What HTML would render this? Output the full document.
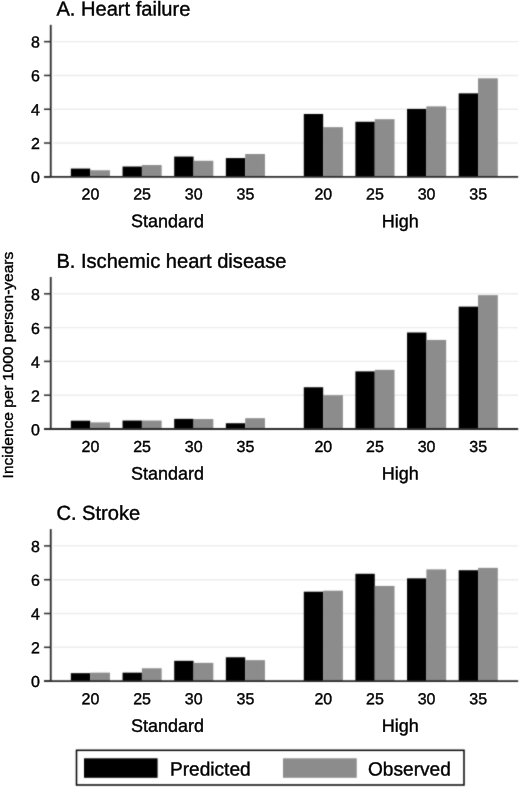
<!DOCTYPE html>
<html><head><meta charset="utf-8"><style>
html,body{margin:0;padding:0;background:#fff;width:520px;height:788px;overflow:hidden}
svg{display:block;will-change:transform}
text{font-family:"Liberation Sans",sans-serif;fill:#000;stroke:#000;stroke-width:0.4px}
</style></head><body>
<svg width="520" height="788" viewBox="0 0 520 788">
<defs><filter id="b" filterUnits="userSpaceOnUse" x="0" y="0" width="520" height="788" color-interpolation-filters="sRGB"><feConvolveMatrix order="3" kernelMatrix="1 2 1 2 16 2 1 2 1" divisor="28" edgeMode="duplicate"/></filter></defs>
<rect width="520" height="788" fill="#fff"/>
<g filter="url(#b)">
<line x1="53.3" x2="518" y1="143.05" y2="143.05" stroke="#ebebeb" stroke-width="1.4"/>
<line x1="53.3" x2="518" y1="109.25" y2="109.25" stroke="#ebebeb" stroke-width="1.4"/>
<line x1="53.3" x2="518" y1="75.45" y2="75.45" stroke="#ebebeb" stroke-width="1.4"/>
<line x1="53.3" x2="518" y1="41.65" y2="41.65" stroke="#ebebeb" stroke-width="1.4"/>
<rect x="70.85" y="168.57" width="19.35" height="8.28" fill="#000"/>
<rect x="90.2" y="170.26" width="19.75" height="6.59" fill="#8c8c8c"/>
<rect x="122.55" y="166.54" width="19.35" height="10.31" fill="#000"/>
<rect x="141.9" y="165.02" width="19.75" height="11.83" fill="#8c8c8c"/>
<rect x="174.2" y="156.57" width="19.35" height="20.28" fill="#000"/>
<rect x="193.55" y="160.79" width="19.75" height="16.05" fill="#8c8c8c"/>
<rect x="225.85" y="158.09" width="19.35" height="18.76" fill="#000"/>
<rect x="245.2" y="154.03" width="19.75" height="22.82" fill="#8c8c8c"/>
<rect x="303.8" y="113.98" width="19.35" height="62.87" fill="#000"/>
<rect x="323.15" y="127.16" width="19.75" height="49.69" fill="#8c8c8c"/>
<rect x="355.4" y="121.76" width="19.35" height="55.09" fill="#000"/>
<rect x="374.75" y="119.22" width="19.75" height="57.63" fill="#8c8c8c"/>
<rect x="407.05" y="108.91" width="19.35" height="67.94" fill="#000"/>
<rect x="426.4" y="106.38" width="19.75" height="70.47" fill="#8c8c8c"/>
<rect x="458.7" y="93.36" width="19.35" height="83.49" fill="#000"/>
<rect x="478.05" y="78.32" width="19.75" height="98.53" fill="#8c8c8c"/>
<line x1="50.75" x2="50.75" y1="24.85" y2="176.85" stroke="#2a2a2a" stroke-width="1.8"/>
<line x1="44" x2="518.2" y1="176.85" y2="176.85" stroke="#2a2a2a" stroke-width="1.8"/>
<line x1="44" x2="50.75" y1="176.85" y2="176.85" stroke="#2a2a2a" stroke-width="1.5"/>
<line x1="44" x2="50.75" y1="143.05" y2="143.05" stroke="#2a2a2a" stroke-width="1.5"/>
<line x1="44" x2="50.75" y1="109.25" y2="109.25" stroke="#2a2a2a" stroke-width="1.5"/>
<line x1="44" x2="50.75" y1="75.45" y2="75.45" stroke="#2a2a2a" stroke-width="1.5"/>
<line x1="44" x2="50.75" y1="41.65" y2="41.65" stroke="#2a2a2a" stroke-width="1.5"/>
<line x1="53.3" x2="518" y1="395.2" y2="395.2" stroke="#ebebeb" stroke-width="1.4"/>
<line x1="53.3" x2="518" y1="361.4" y2="361.4" stroke="#ebebeb" stroke-width="1.4"/>
<line x1="53.3" x2="518" y1="327.6" y2="327.6" stroke="#ebebeb" stroke-width="1.4"/>
<line x1="53.3" x2="518" y1="293.8" y2="293.8" stroke="#ebebeb" stroke-width="1.4"/>
<rect x="70.85" y="420.72" width="19.35" height="8.28" fill="#000"/>
<rect x="90.2" y="422.41" width="19.75" height="6.59" fill="#8c8c8c"/>
<rect x="122.55" y="420.55" width="19.35" height="8.45" fill="#000"/>
<rect x="141.9" y="420.55" width="19.75" height="8.45" fill="#8c8c8c"/>
<rect x="174.2" y="418.86" width="19.35" height="10.14" fill="#000"/>
<rect x="193.55" y="419.03" width="19.75" height="9.97" fill="#8c8c8c"/>
<rect x="225.85" y="423.25" width="19.35" height="5.75" fill="#000"/>
<rect x="245.2" y="418.18" width="19.75" height="10.82" fill="#8c8c8c"/>
<rect x="303.8" y="387.26" width="19.35" height="41.74" fill="#000"/>
<rect x="323.15" y="395.2" width="19.75" height="33.8" fill="#8c8c8c"/>
<rect x="355.4" y="371.37" width="19.35" height="57.63" fill="#000"/>
<rect x="374.75" y="369.85" width="19.75" height="59.15" fill="#8c8c8c"/>
<rect x="407.05" y="332.5" width="19.35" height="96.5" fill="#000"/>
<rect x="426.4" y="339.94" width="19.75" height="89.06" fill="#8c8c8c"/>
<rect x="458.7" y="306.64" width="19.35" height="122.36" fill="#000"/>
<rect x="478.05" y="295.15" width="19.75" height="133.85" fill="#8c8c8c"/>
<line x1="50.75" x2="50.75" y1="277" y2="429" stroke="#2a2a2a" stroke-width="1.8"/>
<line x1="44" x2="518.2" y1="429" y2="429" stroke="#2a2a2a" stroke-width="1.8"/>
<line x1="44" x2="50.75" y1="429" y2="429" stroke="#2a2a2a" stroke-width="1.5"/>
<line x1="44" x2="50.75" y1="395.2" y2="395.2" stroke="#2a2a2a" stroke-width="1.5"/>
<line x1="44" x2="50.75" y1="361.4" y2="361.4" stroke="#2a2a2a" stroke-width="1.5"/>
<line x1="44" x2="50.75" y1="327.6" y2="327.6" stroke="#2a2a2a" stroke-width="1.5"/>
<line x1="44" x2="50.75" y1="293.8" y2="293.8" stroke="#2a2a2a" stroke-width="1.5"/>
<line x1="53.3" x2="518" y1="647.3" y2="647.3" stroke="#ebebeb" stroke-width="1.4"/>
<line x1="53.3" x2="518" y1="613.5" y2="613.5" stroke="#ebebeb" stroke-width="1.4"/>
<line x1="53.3" x2="518" y1="579.7" y2="579.7" stroke="#ebebeb" stroke-width="1.4"/>
<line x1="53.3" x2="518" y1="545.9" y2="545.9" stroke="#ebebeb" stroke-width="1.4"/>
<rect x="70.85" y="673.16" width="19.35" height="7.94" fill="#000"/>
<rect x="90.2" y="672.65" width="19.75" height="8.45" fill="#8c8c8c"/>
<rect x="122.55" y="672.65" width="19.35" height="8.45" fill="#000"/>
<rect x="141.9" y="668.26" width="19.75" height="12.84" fill="#8c8c8c"/>
<rect x="174.2" y="660.82" width="19.35" height="20.28" fill="#000"/>
<rect x="193.55" y="662.85" width="19.75" height="18.25" fill="#8c8c8c"/>
<rect x="225.85" y="657.27" width="19.35" height="23.83" fill="#000"/>
<rect x="245.2" y="660.14" width="19.75" height="20.96" fill="#8c8c8c"/>
<rect x="303.8" y="591.7" width="19.35" height="89.4" fill="#000"/>
<rect x="323.15" y="590.69" width="19.75" height="90.41" fill="#8c8c8c"/>
<rect x="355.4" y="573.79" width="19.35" height="107.31" fill="#000"/>
<rect x="374.75" y="585.95" width="19.75" height="95.15" fill="#8c8c8c"/>
<rect x="407.05" y="578.35" width="19.35" height="102.75" fill="#000"/>
<rect x="426.4" y="569.39" width="19.75" height="111.71" fill="#8c8c8c"/>
<rect x="458.7" y="570.24" width="19.35" height="110.86" fill="#000"/>
<rect x="478.05" y="567.87" width="19.75" height="113.23" fill="#8c8c8c"/>
<line x1="50.75" x2="50.75" y1="529.1" y2="681.1" stroke="#2a2a2a" stroke-width="1.8"/>
<line x1="44" x2="518.2" y1="681.1" y2="681.1" stroke="#2a2a2a" stroke-width="1.8"/>
<line x1="44" x2="50.75" y1="681.1" y2="681.1" stroke="#2a2a2a" stroke-width="1.5"/>
<line x1="44" x2="50.75" y1="647.3" y2="647.3" stroke="#2a2a2a" stroke-width="1.5"/>
<line x1="44" x2="50.75" y1="613.5" y2="613.5" stroke="#2a2a2a" stroke-width="1.5"/>
<line x1="44" x2="50.75" y1="579.7" y2="579.7" stroke="#2a2a2a" stroke-width="1.5"/>
<line x1="44" x2="50.75" y1="545.9" y2="545.9" stroke="#2a2a2a" stroke-width="1.5"/>
<rect x="76.5" y="750.3" width="387.5" height="34.7" fill="none" stroke="#000" stroke-width="1.5"/>
<rect x="84" y="758.3" width="73.6" height="19.5" fill="#000"/>
<rect x="283" y="758.3" width="73.75" height="19.5" fill="#8c8c8c"/>
</g>
<g transform="matrix(1,0.001,0,1,0,0)">
<text x="40" y="182.71" text-anchor="end" font-size="16">0</text>
<text x="40" y="148.91" text-anchor="end" font-size="16">2</text>
<text x="40" y="115.11" text-anchor="end" font-size="16">4</text>
<text x="40" y="81.31" text-anchor="end" font-size="16">6</text>
<text x="40" y="47.51" text-anchor="end" font-size="16">8</text>
<text x="90.4" y="199.46" text-anchor="middle" font-size="16">20</text>
<text x="142.1" y="199.41" text-anchor="middle" font-size="16">25</text>
<text x="193.75" y="199.36" text-anchor="middle" font-size="16">30</text>
<text x="245.4" y="199.3" text-anchor="middle" font-size="16">35</text>
<text x="323.35" y="199.23" text-anchor="middle" font-size="16">20</text>
<text x="374.95" y="199.18" text-anchor="middle" font-size="16">25</text>
<text x="426.6" y="199.12" text-anchor="middle" font-size="16">30</text>
<text x="478.25" y="199.07" text-anchor="middle" font-size="16">35</text>
<text x="167.6" y="226.98" text-anchor="middle" font-size="18">Standard</text>
<text x="400.2" y="226.75" text-anchor="middle" font-size="18">High</text>
<text x="56.4" y="15.44" font-size="20.1">A. Heart failure</text>
<text x="40" y="435.26" text-anchor="end" font-size="16">0</text>
<text x="40" y="401.46" text-anchor="end" font-size="16">2</text>
<text x="40" y="367.66" text-anchor="end" font-size="16">4</text>
<text x="40" y="333.86" text-anchor="end" font-size="16">6</text>
<text x="40" y="300.06" text-anchor="end" font-size="16">8</text>
<text x="90.4" y="451.91" text-anchor="middle" font-size="16">20</text>
<text x="142.1" y="451.86" text-anchor="middle" font-size="16">25</text>
<text x="193.75" y="451.81" text-anchor="middle" font-size="16">30</text>
<text x="245.4" y="451.75" text-anchor="middle" font-size="16">35</text>
<text x="323.35" y="451.68" text-anchor="middle" font-size="16">20</text>
<text x="374.95" y="451.63" text-anchor="middle" font-size="16">25</text>
<text x="426.6" y="451.57" text-anchor="middle" font-size="16">30</text>
<text x="478.25" y="451.52" text-anchor="middle" font-size="16">35</text>
<text x="167.6" y="479.43" text-anchor="middle" font-size="18">Standard</text>
<text x="400.2" y="479.2" text-anchor="middle" font-size="18">High</text>
<text x="56.4" y="267.59" font-size="20.1">B. Ischemic heart disease</text>
<text x="40" y="687.06" text-anchor="end" font-size="16">0</text>
<text x="40" y="653.26" text-anchor="end" font-size="16">2</text>
<text x="40" y="619.46" text-anchor="end" font-size="16">4</text>
<text x="40" y="585.66" text-anchor="end" font-size="16">6</text>
<text x="40" y="551.86" text-anchor="end" font-size="16">8</text>
<text x="90.4" y="704.16" text-anchor="middle" font-size="16">20</text>
<text x="142.1" y="704.11" text-anchor="middle" font-size="16">25</text>
<text x="193.75" y="704.06" text-anchor="middle" font-size="16">30</text>
<text x="245.4" y="704" text-anchor="middle" font-size="16">35</text>
<text x="323.35" y="703.93" text-anchor="middle" font-size="16">20</text>
<text x="374.95" y="703.88" text-anchor="middle" font-size="16">25</text>
<text x="426.6" y="703.82" text-anchor="middle" font-size="16">30</text>
<text x="478.25" y="703.77" text-anchor="middle" font-size="16">35</text>
<text x="167.6" y="731.68" text-anchor="middle" font-size="18">Standard</text>
<text x="400.2" y="731.45" text-anchor="middle" font-size="18">High</text>
<text x="56.4" y="519.69" font-size="20.1">C. Stroke</text>
<text x="170" y="775.33" font-size="19.1">Predicted</text>
<text x="368" y="775.13" font-size="19.1">Observed</text>
</g>
<text transform="translate(12.9,478.4) rotate(-90)" font-size="15.5">Incidence per 1000 person-years</text>
</svg>
</body></html>
